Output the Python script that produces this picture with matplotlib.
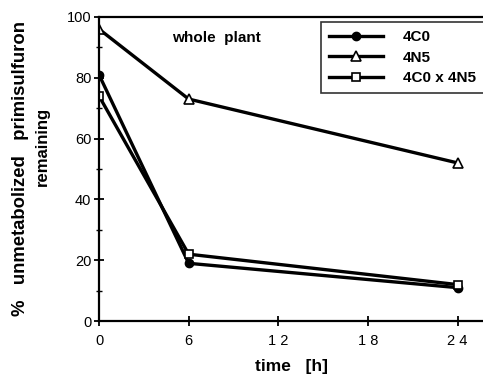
import matplotlib
matplotlib.use("Agg")
import matplotlib.pyplot as plt
from matplotlib.ticker import MultipleLocator

plt.rcParams['font.family'] = ['Liberation Sans', 'DejaVu Sans']

# data
time_h = [0, 6, 24]
c0 = [81, 19, 11]
n5 = [96, 73, 52]
c0_x_n5 = [74, 22, 12]
xtick_vals = [0, 6, 12, 18, 24]
xtick_labels = ["0", "6", "1 2", "1 8", "2 4"]

fig = plt.figure(figsize=(4.83, 3.76), dpi=100)
ax = fig.add_axes([0.205, 0.146, 0.795, 0.809])

lw = 2.4
ax.plot(time_h, c0, color="black", lw=lw, marker="o", ms=6, mfc="black", mec="black", label="4C0")
ax.plot(time_h, n5, color="black", lw=lw, marker="^", ms=7, mfc="white", mec="black", mew=1.2, label="4N5")
ax.plot(time_h, c0_x_n5, color="black", lw=lw, marker="s", ms=6, mfc="white", mec="black", mew=1.2, label="4C0 x 4N5")

ax.set_xlim(0, 25.7)
ax.set_ylim(0, 100)
ax.set_xticks(xtick_vals)
ax.set_xticklabels(xtick_labels)
ax.yaxis.set_major_locator(MultipleLocator(20))
ax.yaxis.set_minor_locator(MultipleLocator(10))
ax.tick_params(axis="both", direction="inout", length=7, width=1.3, labelsize=10.5)
ax.tick_params(axis="y", which="minor", direction="inout", length=4, width=1.0)
ax.tick_params(axis="y", pad=2)
ax.tick_params(axis="x", pad=6)

for s in ["left", "bottom", "top"]:
    ax.spines[s].set_linewidth(1.6)
ax.spines["right"].set_visible(False)

ax.set_xlabel("time   [h]", fontsize=12.5, fontweight="bold", labelpad=8)

# y label: two lines placed separately, as in the original
fig.text(21 / 483, 1 - 169 / 376, "%   unmetabolized   primisulfuron", rotation=90,
         fontsize=13.3, fontweight="bold", ha="center", va="center")
fig.text(42 / 483, 1 - 146 / 376, "remaining", rotation=90,
         fontsize=12, fontweight="bold", ha="center", va="center")

ax.text(0.19, 0.955, "whole  plant", transform=ax.transAxes, fontsize=11,
        fontweight="bold", va="top", ha="left")

leg = ax.legend(loc="upper right", bbox_to_anchor=(1.003, 0.984), borderaxespad=0,
                fontsize=11, frameon=True, fancybox=False, edgecolor="black",
                handlelength=3.5, borderpad=0.55, labelspacing=0.42, handletextpad=1.3)
leg.get_frame().set_linewidth(1.2)
for t in leg.get_texts():
    t.set_fontweight("bold")

fig.savefig("out.png", dpi=100)
